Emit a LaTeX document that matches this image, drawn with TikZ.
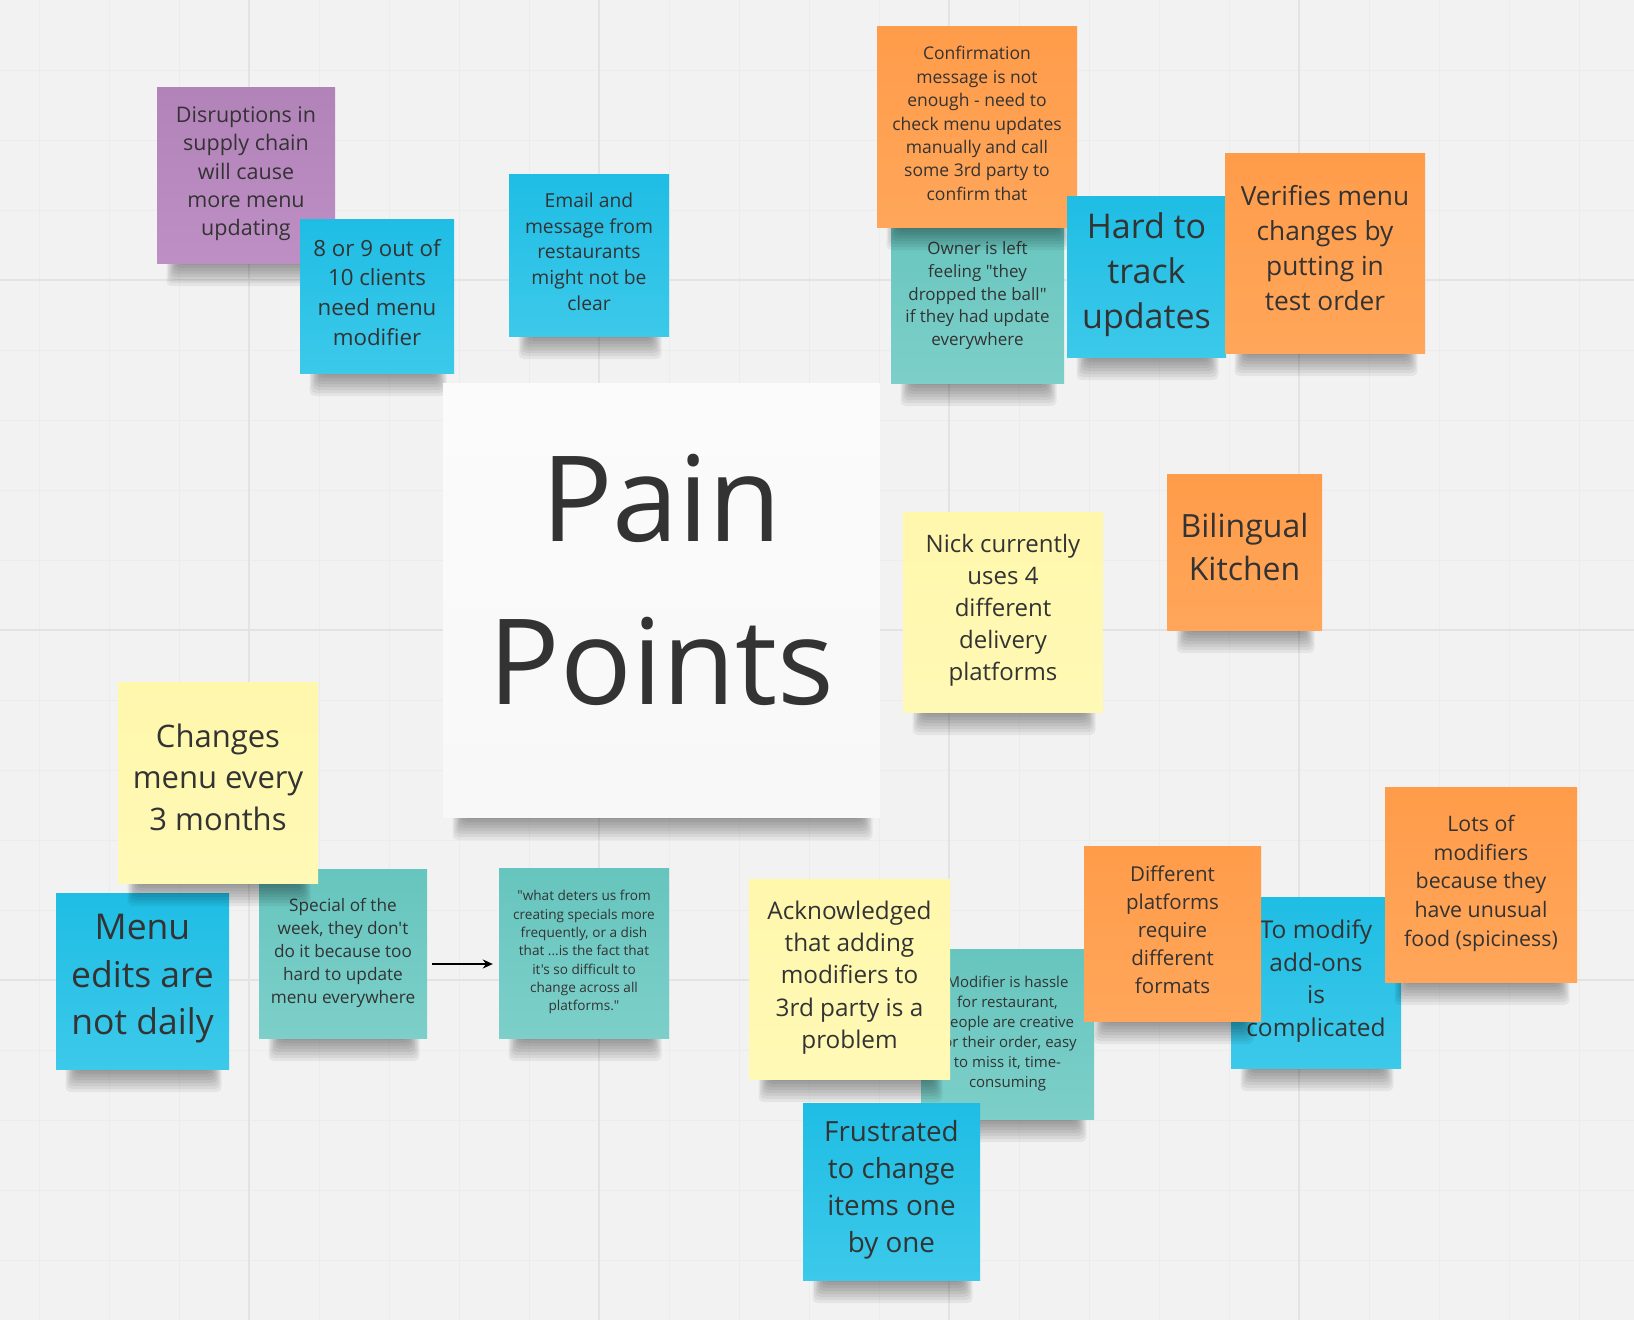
\documentclass[tikz,border=0pt]{standalone}
\usepackage{fontspec}
\newfontfamily\notefont{Open Sans}
\usetikzlibrary{arrows.meta}
\definecolor{bgcol}{HTML}{F2F2F2}
\definecolor{minorcol}{HTML}{ECECEC}
\definecolor{majorcol}{HTML}{E3E3E3}
\definecolor{txtcol}{HTML}{333333}
\definecolor{blueT}{HTML}{1FBDE4}
\definecolor{blueB}{HTML}{3CC9EA}
\definecolor{orangeT}{HTML}{FF9C4A}
\definecolor{orangeB}{HTML}{FFA65A}
\definecolor{tealT}{HTML}{66C5BE}
\definecolor{tealB}{HTML}{7DCFC9}
\definecolor{yellowT}{HTML}{FFF7AC}
\definecolor{yellowB}{HTML}{FFF9B6}
\definecolor{purpleT}{HTML}{B283B9}
\definecolor{purpleB}{HTML}{BE8FC4}
\definecolor{whiteT}{HTML}{FBFBFB}
\definecolor{whiteB}{HTML}{F8F8F8}
\tikzset{
  note/.style={rectangle, inner sep=0pt, align=center, text=txtcol},
  bluenote/.style={note, top color=blueT, bottom color=blueB},
  orangenote/.style={note, top color=orangeT, bottom color=orangeB},
  tealnote/.style={note, top color=tealT, bottom color=tealB},
  yellownote/.style={note, top color=yellowT, bottom color=yellowB},
  purplenote/.style={note, top color=purpleT, bottom color=purpleB},
  whitenote/.style={note, top color=whiteT, bottom color=whiteB},
  minorline/.style={draw=minorcol, line width=1pt},
  majorline/.style={draw=majorcol, line width=1.5pt},
  shadowpiece/.style={fill=black, opacity=0.055, rounded corners=5pt},
  linkarrow/.style={-{Stealth[length=10pt,width=9pt]}, line width=2pt, black}
}
% #1 name, #2 x1, #3 y1, #4 x2, #5 y2, #6 style, #7 font size, #8 baselineskip, #9 text
\newcommand\stickynote[9]{%
  \foreach \i in {1,...,8}{%
    \path[shadowpiece] ({#2+8+1.5*\i},{#5-8}) rectangle ({#4-6-1.5*\i},{#5+26-3*\i});
  }%
  \node[#6, minimum width={(#4-#2)*1pt}, minimum height={(#5-#3)*1pt},
        font={\notefont\fontsize{#7}{#8}\selectfont}]
        (#1) at ({(#2+#4)/2},{(#3+#5)/2}) {#9\rule[-0.35em]{0pt}{0pt}};%
}
\begin{document}
\begin{tikzpicture}[x=1pt,y=-1pt]
\useasboundingbox (0,0) rectangle (1634,1320);
\fill[bgcol] (0,0) rectangle (1634,1320);
% grid
\foreach \x in {39,109,...,1634} \path[minorline] (\x,0) -- (\x,1320);
\foreach \y in {70,140,...,1320} \path[minorline] (0,\y) -- (1634,\y);
\foreach \x in {249,599,949,1299} \path[majorline] (\x,0) -- (\x,1320);
\foreach \y in {280,630,980} \path[majorline] (0,\y) -- (1634,\y);

% top-left cluster
\stickynote{disrupt}{157}{87}{335}{263}{purplenote}{21.5}{28.3}{Disruptions in\\supply chain\\will cause\\more menu\\updating}
\stickynote{clients}{300}{219}{454}{373}{bluenote}{22.3}{29.6}{8 or 9 out of\\10 clients\\need menu\\modifier}
\stickynote{email}{509}{174}{669}{336}{bluenote}{19.3}{25.7}{Email and\\message from\\restaurants\\might not be\\clear}

% top-right cluster
\stickynote{owner}{891}{210}{1064}{383}{tealnote}{17}{22.7}{Owner is left\\feeling "they\\dropped the ball"\\if they had update\\everywhere}
\stickynote{confirm}{877}{26}{1077}{227}{orangenote}{17.5}{23.4}{Confirmation\\message is not\\enough - need to\\check menu updates\\manually and call\\some 3rd party to\\confirm that}
\stickynote{hard}{1067}{196}{1226}{357}{bluenote}{34}{45}{Hard to\\track\\updates}
\stickynote{verifies}{1225}{153}{1425}{353}{orangenote}{26.3}{35}{Verifies menu\\changes by\\putting in\\test order}

% centre
\stickynote{pain}{443}{383}{880}{817}{whitenote}{119}{163}{Pain\\Points}
\stickynote{nick}{903}{512}{1103}{712}{yellownote}{24}{32}{Nick currently\\uses 4\\different\\delivery\\platforms}
\stickynote{bilingual}{1167}{474}{1322}{630}{orangenote}{32}{43}{Bilingual\\Kitchen}

% bottom-left cluster
\stickynote{special}{259}{869}{427}{1038}{tealnote}{17.2}{23}{Special of the\\week, they don't\\do it because too\\hard to update\\menu everywhere}
\stickynote{menuedits}{56}{893}{229}{1069}{bluenote}{35.5}{47.5}{Menu\\edits are\\not daily}
\stickynote{changes}{118}{682}{318}{883}{yellownote}{31}{41.7}{Changes\\menu every\\3 months}
\stickynote{quote}{499}{868}{669}{1038}{tealnote}{13.6}{18.3}{"what deters us from\\creating specials more\\frequently, or a dish\\that ...is the fact that\\it's so difficult to\\change across all\\platforms."}
\draw[linkarrow, shorten <=5pt, shorten >=6pt] ([yshift=-10.5pt]special.east) -- ([yshift=-10.5pt]special.east -| quote.west);

% bottom-right cluster
\stickynote{hassle}{921}{949}{1094}{1119}{tealnote}{15}{20}{Modifier is hassle\\for restaurant,\\people are creative\\for their order, easy\\to miss it, time-\\consuming}
\stickynote{ack}{749}{879}{950}{1079}{yellownote}{24.3}{32.3}{Acknowledged\\that adding\\modifiers to\\3rd party is a\\problem}
\stickynote{frustrated}{803}{1103}{980}{1280}{bluenote}{27.8}{37}{Frustrated\\to change\\items one\\by one}
\stickynote{addons}{1231}{897}{1401}{1068}{bluenote}{24.5}{32.6}{To modify\\add-ons\\is\\complicated}
\stickynote{formats}{1084}{846}{1261}{1021}{orangenote}{20.5}{28}{Different\\platforms\\require\\different\\formats}
\stickynote{lots}{1385}{787}{1577}{982}{orangenote}{21.3}{28.6}{Lots of\\modifiers\\because they\\have unusual\\food (spiciness)}
\end{tikzpicture}
\end{document}
